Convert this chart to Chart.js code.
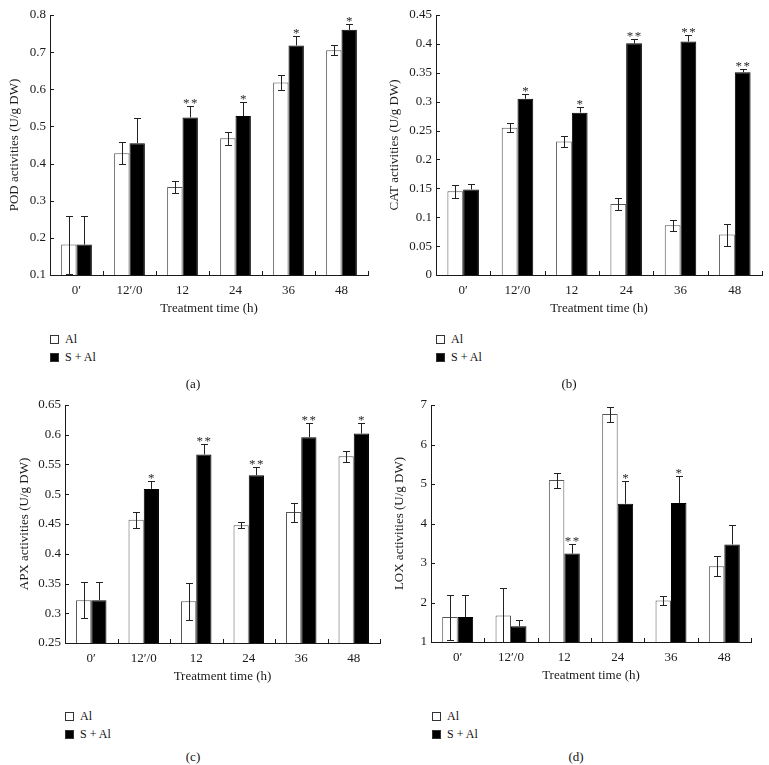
<!DOCTYPE html>
<html>
<head>
<meta charset="utf-8">
<script src="https://cdn.jsdelivr.net/npm/chart.js@4.4.0/dist/chart.umd.min.js"></script>
<style>
  body { margin: 0; background: #fff; font-family: "Liberation Serif", serif; color: #111; }
  #page { position: relative; width: 769px; height: 765px; overflow: hidden; }
  canvas { position: absolute; }
  .leg { position: absolute; font-size: 12px; line-height: 18px; white-space: nowrap; }
  .box { display: inline-block; width: 7px; height: 7px; border: 1px solid #333; margin-right: 6px; vertical-align: -1px; }
  .cap { position: absolute; font-size: 13px; transform: translateX(-50%); }
</style>
</head>
<body>
<div id="page">
  <canvas id="podChart" width="385" height="320" style="left:0;top:0"></canvas>
  <canvas id="catChart" width="384" height="320" style="left:385px;top:0"></canvas>
  <canvas id="apxChart" width="385" height="308" style="left:0;top:380px"></canvas>
  <canvas id="loxChart" width="384" height="307" style="left:385px;top:380px"></canvas>

  <div class="leg" style="left:50px;top:330px"><span class="box"></span>Al<br><span class="box" style="background:#000"></span>S + Al</div>
  <div class="leg" style="left:436px;top:330px"><span class="box"></span>Al<br><span class="box" style="background:#000"></span>S + Al</div>
  <div class="leg" style="left:65px;top:707px"><span class="box"></span>Al<br><span class="box" style="background:#000"></span>S + Al</div>
  <div class="leg" style="left:432px;top:707px"><span class="box"></span>Al<br><span class="box" style="background:#000"></span>S + Al</div>

  <div class="cap" style="left:193px;top:376px">(a)</div>
  <div class="cap" style="left:569px;top:376px">(b)</div>
  <div class="cap" style="left:193px;top:749px">(c)</div>
  <div class="cap" style="left:576px;top:749px">(d)</div>
</div>
<script>
var categories = ['0\u2032', '12\u2032/0', '12', '24', '36', '48'];

// POD
var podAl = [0.182, 0.428, 0.337, 0.468, 0.618, 0.705];
var podAlErr = [0.078, 0.03, 0.017, 0.017, 0.02, 0.014];
var podSAl = [0.182, 0.455, 0.524, 0.528, 0.718, 0.760];
var podSAlErr = [0.078, 0.067, 0.032, 0.037, 0.025, 0.015];
var podStars = ['', '', '**', '*', '*', '*'];

// CAT
var catAl = [0.145, 0.255, 0.231, 0.123, 0.086, 0.070];
var catAlErr = [0.011, 0.0075, 0.009, 0.011, 0.009, 0.019];
var catSAl = [0.148, 0.305, 0.281, 0.401, 0.404, 0.351];
var catSAlErr = [0.009, 0.009, 0.009, 0.007, 0.011, 0.005];
var catStars = ['', '*', '*', '**', '**', '**'];

// APX
var apxAl = [0.322, 0.457, 0.320, 0.448, 0.470, 0.564];
var apxAlErr = [0.03, 0.014, 0.031, 0.005, 0.016, 0.009];
var apxSAl = [0.322, 0.509, 0.567, 0.532, 0.596, 0.602];
var apxSAlErr = [0.03, 0.014, 0.017, 0.014, 0.024, 0.017];
var apxStars = ['', '*', '**', '**', '**', '*'];

// LOX
var loxAl = [1.63, 1.67, 5.10, 6.77, 2.05, 2.92];
var loxAlErr = [0.57, 0.70, 0.19, 0.19, 0.11, 0.25];
var loxSAl = [1.63, 1.40, 3.24, 4.50, 4.52, 3.47];
var loxSAlErr = [0.57, 0.16, 0.24, 0.57, 0.68, 0.49];
var loxStars = ['', '', '**', '*', '*', ''];

var ink = '#1a1a1a';
var font13 = { family: '"Liberation Serif", serif', size: 13 };

// error bars, significance stars and the inward tick marks
var extrasPlugin = {
  id: 'extras',
  afterDatasetsDraw: function(chart) {
    var ctx = chart.ctx;
    var ys = chart.scales.y;
    var area = chart.chartArea;
    ctx.save();
    ctx.strokeStyle = '#222';
    ctx.lineWidth = 1;
    chart.data.datasets.forEach(function(ds, di) {
      var meta = chart.getDatasetMeta(di);
      meta.data.forEach(function(bar, i) {
        var v = ds.data[i], e = ds.err[i];
        var x = Math.round(bar.x) + 0.5;
        var top = Math.round(ys.getPixelForValue(v + e)) + 0.5;
        var bot = ys.getPixelForValue(v - e);
        var clipped = bot > area.bottom;
        bot = Math.round(Math.min(bot, area.bottom)) + 0.5;
        ctx.beginPath();
        ctx.moveTo(x, top);
        ctx.lineTo(x, di === 0 ? bot : bar.y);
        ctx.moveTo(x - 3.5, top);
        ctx.lineTo(x + 3.5, top);
        if (di === 0 && !clipped) {
          ctx.moveTo(x - 3.5, bot);
          ctx.lineTo(x + 3.5, bot);
        }
        ctx.stroke();
        var s = ds.stars ? ds.stars[i] : '';
        if (s) {
          ctx.fillStyle = '#2a2a2a';
          ctx.font = '13px "Liberation Serif", serif';
          ctx.textAlign = 'center';
          ctx.textBaseline = 'alphabetic';
          var n = s.length;
          for (var k = 0; k < n; k++) {
            ctx.fillText('*', bar.x + (k - (n - 1) / 2) * 8, top + 0.5);
          }
        }
      });
    });
    // tick marks pointing into the plot
    ctx.strokeStyle = ink;
    ctx.beginPath();
    ys.ticks.forEach(function(t) {
      var y = Math.round(ys.getPixelForValue(t.value)) + 0.5;
      ctx.moveTo(area.left, y);
      ctx.lineTo(area.left + 4, y);
    });
    var step = (area.right - area.left) / categories.length;
    for (var j = 1; j <= categories.length; j++) {
      var xx = Math.round(area.left + j * step) + 0.5;
      ctx.moveTo(xx, area.bottom);
      ctx.lineTo(xx, area.bottom - 4);
    }
    ctx.stroke();
    ctx.restore();
  }
};

function fmt(v) { return String(+v.toFixed(3)); }

function makePanel(id, p) {
  return new Chart(document.getElementById(id), {
    type: 'bar',
    data: {
      labels: categories,
      datasets: [{
        label: 'Al',
        data: p.al,
        err: p.alErr,
        backgroundColor: '#fff',
        borderColor: '#555',
        borderWidth: 1,
        categoryPercentage: 0.58,
        barPercentage: 1
      }, {
        label: 'S + Al',
        data: p.sal,
        err: p.salErr,
        stars: p.stars,
        backgroundColor: '#000',
        borderColor: '#000',
        borderWidth: 1,
        categoryPercentage: 0.58,
        barPercentage: 1
      }]
    },
    options: {
      responsive: false,
      animation: false,
      layout: { padding: { top: p.padTop, right: p.padRight, left: 0, bottom: 0 } },
      plugins: { legend: { display: false }, tooltip: { enabled: false } },
      scales: {
        x: {
          grid: { display: false, drawTicks: false },
          border: { color: ink, width: 1 },
          ticks: { color: ink, font: font13, padding: 8, maxRotation: 0 },
          title: { display: true, text: 'Treatment time (h)', color: ink, font: font13, padding: { top: 0, bottom: 4 } },
          afterFit: function(s) { s.height = 45; }
        },
        y: {
          min: p.min,
          max: p.max,
          grid: { display: false, drawTicks: false },
          border: { color: ink, width: 1 },
          ticks: { stepSize: p.step, color: ink, font: font13, padding: 4, callback: fmt },
          title: { display: true, text: p.title, color: ink, font: font13, padding: { top: p.titlePad, bottom: 0 } },
          afterFit: function(s) { s.width = p.yw; }
        }
      }
    },
    plugins: [extrasPlugin]
  });
}

makePanel('podChart', { al: podAl, alErr: podAlErr, sal: podSAl, salErr: podSAlErr, stars: podStars,
  min: 0.1, max: 0.8, step: 0.1, title: 'POD activities (U/g DW)', yw: 50, padTop: 15, padRight: 17, titlePad: 7 });
makePanel('catChart', { al: catAl, alErr: catAlErr, sal: catSAl, salErr: catSAlErr, stars: catStars,
  min: 0, max: 0.45, step: 0.05, title: 'CAT activities (U/g DW)', yw: 51, padTop: 15, padRight: 7, titlePad: 2 });
makePanel('apxChart', { al: apxAl, alErr: apxAlErr, sal: apxSAl, salErr: apxSAlErr, stars: apxStars,
  min: 0.25, max: 0.65, step: 0.05, title: 'APX activities (U/g DW)', yw: 65, padTop: 25, padRight: 5, titlePad: 17 });
makePanel('loxChart', { al: loxAl, alErr: loxAlErr, sal: loxSAl, salErr: loxSAlErr, stars: loxStars,
  min: 1, max: 7, step: 1, title: 'LOX activities (U/g DW)', yw: 46, padTop: 25, padRight: 18, titlePad: 7 });
</script>
</body>
</html>
